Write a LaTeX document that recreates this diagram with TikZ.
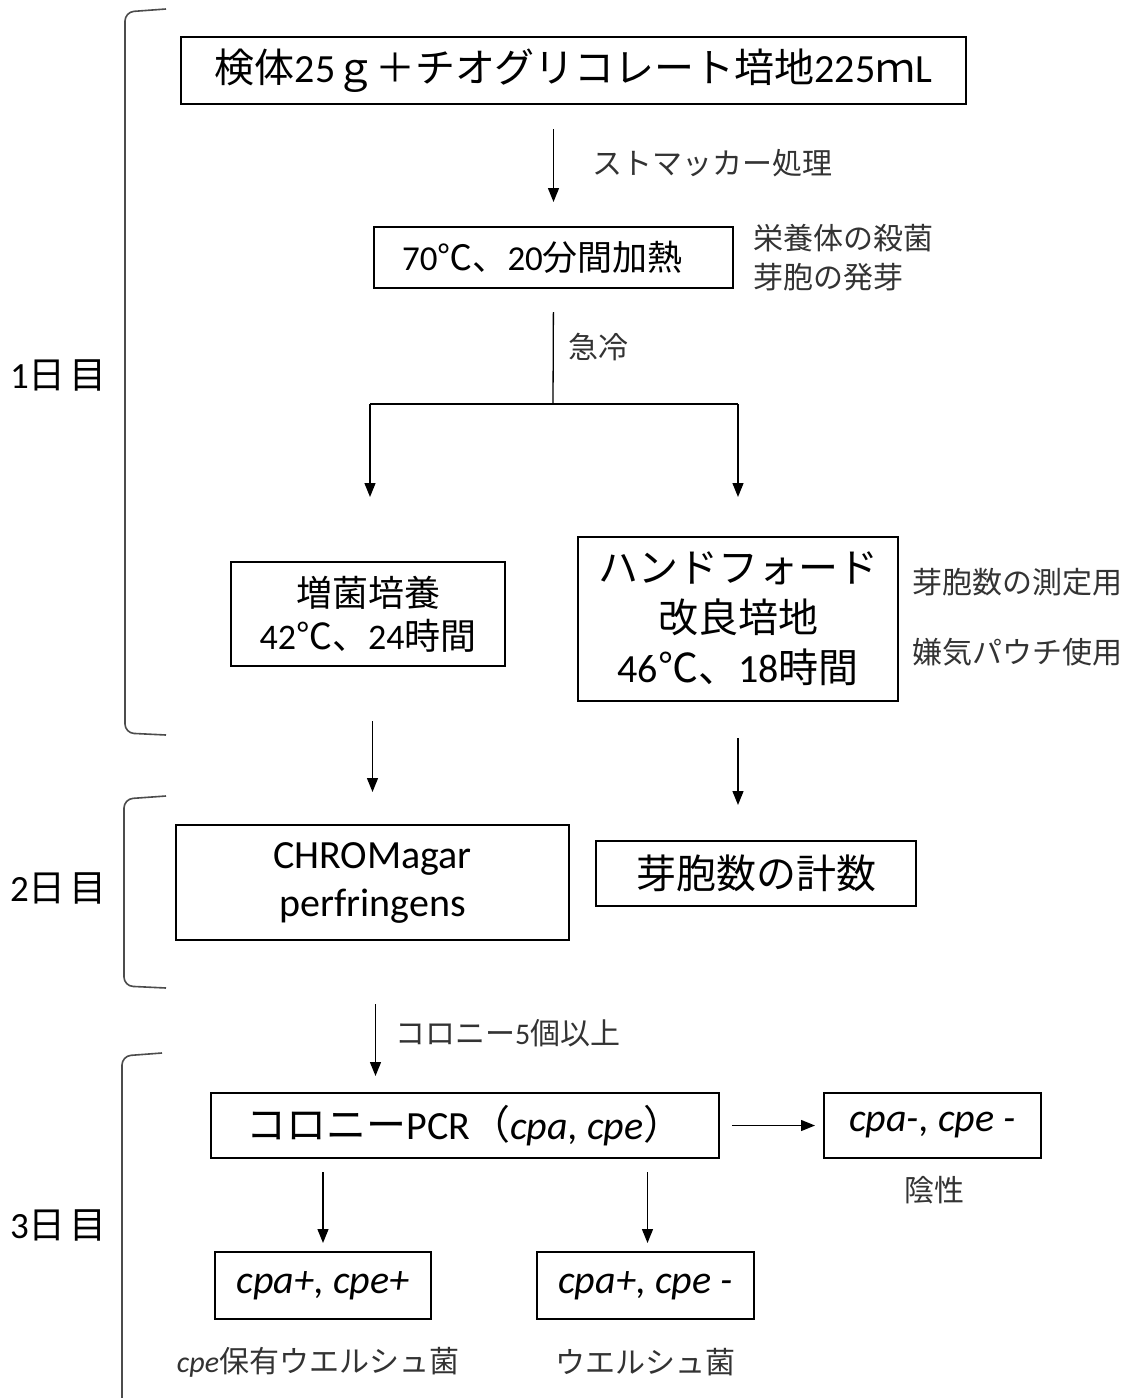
\documentclass[tikz,border=0pt]{standalone}
\usepackage{fontspec}
\setmainfont{Noto Sans CJK JP}
\newfontfamily\calfont{Carlito}
\newcommand\lt[1]{{\calfont #1}}
\newcommand\lti[1]{{\calfont\itshape #1}}
\usetikzlibrary{arrows.meta}
\begin{document}
\begin{tikzpicture}[x=1pt,y=-1pt,
  box/.style={draw=black, line width=2pt, inner sep=0pt, align=center, text=black},
  side/.style={inner sep=0pt, text=black!80, font=\fontsize{30}{39}\selectfont},
  arr/.style={-{Triangle[length=14pt,width=11pt]}, line width=1.3pt},
  ln/.style={line width=1.3pt},
  brc/.style={line width=1.6pt, draw=black!70, rounded corners=9pt},
  day/.style={inner sep=0pt, anchor=west, text=black, font=\fontsize{37}{40}\selectfont}]
\useasboundingbox[fill=white] (0,0) rectangle (1139,1398);

% braces
\draw[brc] (166,9) -- (125,12) -- (125,733) -- (166,735);
\draw[brc] (166,796) -- (124,799) -- (124,986) -- (166,988);
\draw[brc] (162,1053) -- (122,1056) -- (122,1400);
\node[day] (d1) at (10,375) {\lt{1}日\hspace{4pt}目};
\node[day] (d2) at (10,888) {\lt{2}日\hspace{4pt}目};
\node[day] (d3) at (10,1225) {\lt{3}日\hspace{4pt}目};

% boxes
\node[box, minimum width=785pt, minimum height=67pt, font=\fontsize{40}{44}\selectfont]
  (top) at (573.5,70.5) {検体\lt{25}ｇ＋チオグリコレート培地\lt{225}ｍ\lt{L}};
\node[box, minimum width=359pt, minimum height=61pt, font=\fontsize{35}{40}\selectfont]
  (heat) at (553.5,257.5) {\hspace*{-22pt}\lt{70}℃、\lt{20}分間加熱};
\node[box, minimum width=274pt, minimum height=104pt, font=\fontsize{36}{43}\selectfont]
  (zk) at (368,614) {増菌培養\\\lt{42}℃、\lt{24}時間};
\node[box, minimum width=320pt, minimum height=164pt, font=\fontsize{40}{50}\selectfont]
  (hf) at (738,619) {ハンドフォード\\改良培地\\\lt{46}℃、\lt{18}時間};
\node[box, minimum width=393pt, minimum height=115pt, font=\fontsize{40}{48}\selectfont]
  (chrom) at (372.5,882.5) {\lt{CHROMagar}\\\lt{perfringens}};
\node[box, minimum width=320pt, minimum height=65pt, font=\fontsize{40}{44}\selectfont]
  (cnt) at (756,873.5) {芽胞数の計数};
\node[box, minimum width=508pt, minimum height=65pt, font=\fontsize{40}{44}\selectfont]
  (pcr) at (465,1125.5) {コロニー\lt{PCR}（\lti{cpa, cpe}）};
\node[box, minimum width=217pt, minimum height=65pt, font=\fontsize{40}{44}\selectfont]
  (neg) at (932.5,1125.5) {\lti{cpa-, cpe -}};
\node[box, minimum width=216pt, minimum height=67pt, font=\fontsize{40}{44}\selectfont]
  (pp) at (323,1285.5) {\lti{cpa+, cpe+}};
\node[box, minimum width=217pt, minimum height=67pt, font=\fontsize{40}{44}\selectfont]
  (pm) at (645.5,1285.5) {\lti{cpa+, cpe -}};

% side labels
\node[side, anchor=west] (l1) at (592,163) {ストマッカー処理};
\node[side, anchor=west, align=left] (l2) at (753,258) {栄養体の殺菌\\芽胞の発芽};
\node[side, anchor=west] (l3) at (568,347) {急冷};
\node[side, anchor=west] (l4) at (912,582) {芽胞数の測定用};
\node[side, anchor=west] (l5) at (912,652) {嫌気パウチ使用};
\node[side, anchor=west] (l6) at (395,1033) {コロニー\lt{5}個以上};
\node[side] (l7) at (934,1190) {陰性};
\node[side] (l8) at (318,1362) {\lti{cpe}保有ウエルシュ菌};
\node[side] (l9) at (645,1362) {ウエルシュ菌};

% connectors
\coordinate (sp) at (553,404);
\coordinate (sl) at (370,404);
\coordinate (sr) at (738,404);
\coordinate (el) at (370,497);
\coordinate (er) at (738,497);
\draw[arr, shorten <=24pt, shorten >=24pt] (top.south -| heat.north) -- (heat.north);
\draw[ln, shorten <=23pt] (heat.south) -- (sp);
\draw[ln] (sl) -- (sr);
\draw[arr] (sl) -- (el);
\draw[arr] (sr) -- (er);
\draw[arr, shorten <=54pt, shorten >=32pt] (zk.south -| chrom.north) -- (chrom.north);
\draw[arr, shorten <=36pt, shorten >=35pt] (hf.south) -- (hf.south |- cnt.north);
\draw[arr, shorten <=63pt, shorten >=16pt] ([xshift=3pt]chrom.south) -- ([xshift=3pt]chrom.south |- pcr.north);
\draw[arr, shorten <=12pt, shorten >=8pt] (pcr.east) -- (neg.west);
\draw[arr, shorten <=13pt, shorten >=8pt] (pcr.south -| pp.north) -- (pp.north);
\draw[arr, shorten <=13pt, shorten >=8pt] ([xshift=2pt]pcr.south -| pm.north) -- ([xshift=2pt]pm.north);
\end{tikzpicture}
\end{document}
